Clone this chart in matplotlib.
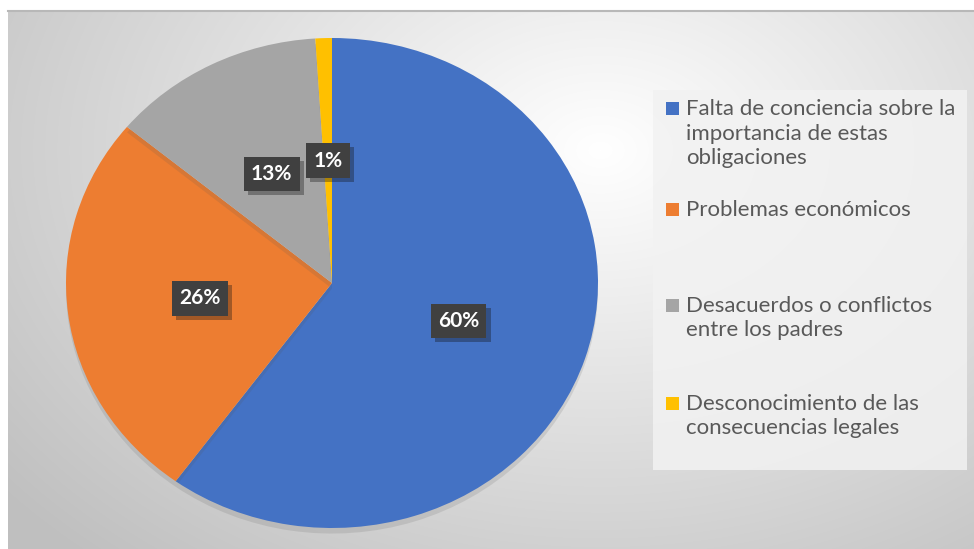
import numpy as np
import matplotlib
matplotlib.use("Agg")
import matplotlib.pyplot as plt
from matplotlib import patheffects
from matplotlib.patches import Rectangle

plt.rcParams['font.family'] = ['Lato', 'DejaVu Sans']

# data
categories = [
    "Falta de conciencia sobre la\nimportancia de estas\nobligaciones",
    "Problemas económicos",
    "Desacuerdos o conflictos\nentre los padres",
    "Desconocimiento de las\nconsecuencias legales",
]
values = [60, 26, 13, 1]
colors = ["#4472C4", "#ED7D31", "#A5A5A5", "#FFC000"]

W, H = 974, 549
fig = plt.figure(figsize=(W / 100, H / 100), dpi=100)

# background: chart area with soft radial gradient
bg = fig.add_axes([0, 0, 1, 1])
bg.set_xlim(0, W)
bg.set_ylim(H, 0)
bg.axis("off")
yy, xx = np.mgrid[0:H, 0:W]
d = np.sqrt(((xx - 600) / 700.0) ** 2 + ((yy - 150) / 500.0) ** 2)
g = 255 - 58 * np.clip(d, 0, 1.1)
img = np.dstack([g, g, g]) / 255.0
mask = (xx < 8) | (yy < 10)
img[mask] = 1.0
bg.imshow(img, extent=(0, W, H, 0), aspect="auto", interpolation="bilinear")
bg.plot([8, W], [10.5, 10.5], color="#b8b8b8", lw=1.5)
# legend panel
bg.add_patch(Rectangle((653, 90), 314, 380, fc="#f2f2f2", ec="none", alpha=0.85))

# pie
ax = fig.add_axes([66 / W, 1 - 528 / H, 532 / W, 490 / H])
wedges, texts, autotexts = ax.pie(
    values, colors=colors, startangle=90, counterclock=False,
    autopct=lambda p: "%d%%" % round(p), pctdistance=0.5,
    wedgeprops=dict(linewidth=0),
    textprops=dict(color="white", fontsize=15, fontweight="bold"),
)
ax.set_aspect("auto")
ax.set_xlim(-1, 1)
ax.set_ylim(-1, 1)
for w in wedges:
    w.set_path_effects([patheffects.SimplePatchShadow(offset=(0, -4), alpha=0.15, shadow_rgbFace="#555555"),
                        patheffects.Normal()])
for t in autotexts:
    t.set_bbox(dict(boxstyle="square,pad=0.35", fc="#404040", ec="none"))
    t.get_bbox_patch().set_path_effects([
        patheffects.SimplePatchShadow(offset=(3, -3), alpha=0.35),
        patheffects.Normal()])

# legend
line_h = 24.5
first_y = [109, 210, 306, 404]
for lab, col, y0 in zip(categories, colors, first_y):
    bg.add_patch(Rectangle((666, y0 - 7), 13, 13, fc=col, ec="none"))
    for i, ln in enumerate(lab.split("\n")):
        bg.text(686, y0 + i * line_h, ln, fontsize=16, color="#595959",
                va="center", ha="left")

fig.savefig("out.png", dpi=100)
